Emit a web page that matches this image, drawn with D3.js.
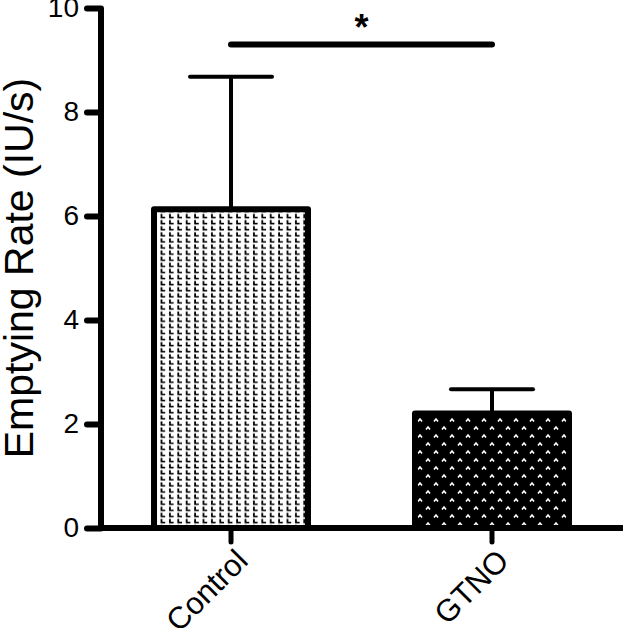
<!DOCTYPE html>
<html>
<head>
<meta charset="utf-8">
<script src="https://cdn.jsdelivr.net/npm/d3@7"></script>
<style>
  html, body { margin: 0; padding: 0; background: #fff; }
  svg { display: block; font-family: Arial, "Liberation Sans", sans-serif; }
</style>
</head>
<body>
<div id="chart"></div>
<script>
// chart values
const categories = ['Control', 'GTNO'];
const means = [6.13, 2.2];
const errors = [2.55, 0.47];
const yTicks = [0, 2, 4, 6, 8, 10];
const sigLevel = 9.3;
const sigLabel = '*';
const yTitle = 'Emptying Rate (IU/s)';

const width = 623, height = 628;

const svg = d3.select('#chart')
    .append('svg')
    .attr('width', width)
    .attr('height', height);

const y = d3.scaleLinear().domain([0, 10]).range([528, 8]);
const x = d3.scaleBand()
    .domain(categories)
    .range([100, 623])
    .paddingInner(0.41)
    .paddingOuter(0.207);

// fill patterns
const defs = svg.append('defs');
const pCtrl = defs.append('pattern')
    .attr('id', 'pat-ctrl')
    .attr('patternUnits', 'userSpaceOnUse')
    .attr('width', 8.4).attr('height', 6.1);
pCtrl.append('rect').attr('width', 8.4).attr('height', 6.1).attr('fill', '#fff');
pCtrl.append('path')
    .attr('d', 'M1,0.5 H2.8 V3.2 H5.6 V4.8 H1 Z')
    .attr('fill', '#000');

const pGtno = defs.append('pattern')
    .attr('id', 'pat-gtno')
    .attr('patternUnits', 'userSpaceOnUse')
    .attr('width', 16).attr('height', 16);
pGtno.append('rect').attr('width', 16).attr('height', 16).attr('fill', '#000');
pGtno.selectAll('path.caret')
    .data([[4, 4], [12, 12]])
    .enter()
    .append('path')
    .attr('d', d => `M${d[0] - 2},${d[1] + 1.5} L${d[0]},${d[1] - 1} L${d[0] + 2},${d[1] + 1.5}`)
    .attr('fill', 'none')
    .attr('stroke', '#fff')
    .attr('stroke-width', 1.6);

const patterns = ['url(#pat-ctrl)', 'url(#pat-gtno)'];

// error bars (drawn below bars)
const capW = 82;
const eb = svg.append('g').attr('stroke', '#000').attr('stroke-width', 4);
categories.forEach((c, i) => {
    const cx = x(c) + x.bandwidth() / 2;
    eb.append('line')
        .attr('x1', cx).attr('x2', cx)
        .attr('y1', y(means[i])).attr('y2', y(means[i] + errors[i]));
    eb.append('line')
        .attr('x1', cx - capW / 2).attr('x2', cx + capW / 2)
        .attr('y1', y(means[i] + errors[i])).attr('y2', y(means[i] + errors[i]))
        .attr('stroke-linecap', 'round');
});

// bars
svg.selectAll('.bar')
    .data(categories)
    .enter()
    .append('rect')
    .attr('class', 'bar')
    .attr('x', d => x(d))
    .attr('y', (d, i) => y(means[i]))
    .attr('width', x.bandwidth())
    .attr('height', (d, i) => y(0) - y(means[i]))
    .attr('fill', (d, i) => patterns[i])
    .attr('stroke', '#000')
    .attr('stroke-width', 6)
    .attr('stroke-linejoin', 'round');

// y axis
const yAxis = svg.append('g')
    .attr('transform', 'translate(101,0)')
    .call(d3.axisLeft(y).tickValues(yTicks).tickSize(14).tickPadding(8).tickFormat(d3.format('d')));
yAxis.select('.domain').remove();
yAxis.append('line')
    .attr('x1', 0).attr('x2', 0)
    .attr('y1', y(10)).attr('y2', y(0) + 3)
    .attr('stroke', '#000').attr('stroke-width', 6);
yAxis.selectAll('.tick line')
    .attr('stroke', '#000').attr('stroke-width', 6).attr('stroke-linecap', 'round');
yAxis.selectAll('.tick text')
    .attr('fill', '#000')
    .style('font-size', '28px')
    .style('font-family', 'Arial, "Liberation Sans", sans-serif');

// x axis
const xAxis = svg.append('g')
    .attr('transform', `translate(0,${y(0)})`)
    .call(d3.axisBottom(x).tickSize(14).tickPadding(6));
xAxis.select('.domain').remove();
xAxis.append('line')
    .attr('x1', 98).attr('x2', 623)
    .attr('y1', 0).attr('y2', 0)
    .attr('stroke', '#000').attr('stroke-width', 6);
xAxis.selectAll('.tick line')
    .attr('stroke', '#000').attr('stroke-width', 5).attr('stroke-linecap', 'round');
xAxis.selectAll('.tick text')
    .attr('fill', '#000')
    .style('font-size', '31px')
    .style('font-family', 'Arial, "Liberation Sans", sans-serif')
    .attr('text-anchor', 'end')
    .attr('dy', '0.75em')
    .attr('transform', 'translate(-12,4) rotate(-45)');

// y title
svg.append('text')
    .attr('transform', `translate(33,${(y(0) + y(10)) / 2}) rotate(-90)`)
    .attr('text-anchor', 'middle')
    .style('font-size', '41px')
    .text(yTitle);

// significance line
const x1 = x(categories[0]) + x.bandwidth() / 2;
const x2 = x(categories[1]) + x.bandwidth() / 2;
svg.append('line')
    .attr('x1', x1).attr('x2', x2)
    .attr('y1', y(sigLevel)).attr('y2', y(sigLevel))
    .attr('stroke', '#000').attr('stroke-width', 6).attr('stroke-linecap', 'round');
svg.append('text')
    .attr('x', (x1 + x2) / 2)
    .attr('y', y(sigLevel) - 4)
    .attr('text-anchor', 'middle')
    .style('font-size', '36px')
    .style('font-weight', 'bold')
    .text(sigLabel);
</script>
</body>
</html>
